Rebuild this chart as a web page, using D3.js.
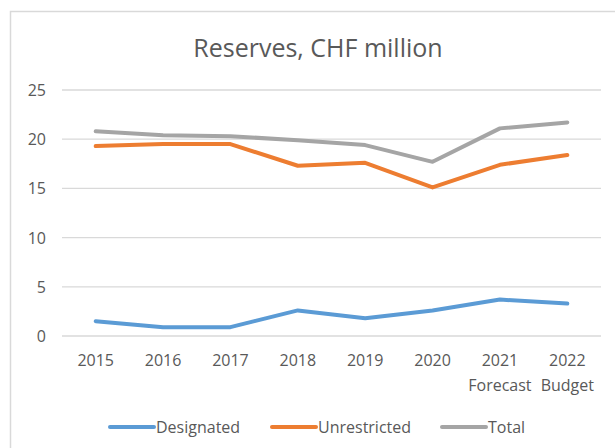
<!DOCTYPE html>
<html>
<head>
<meta charset="utf-8">
<script src="https://cdn.jsdelivr.net/npm/d3@7"></script>
<style>
  html, body { margin: 0; padding: 0; background: #fff; }
  svg { display: block; font-family: "Open Sans", "Noto Sans", sans-serif; }
</style>
</head>
<body>
<script>
let years = ["2015","2016","2017","2018","2019","2020","2021","2022"]
let subLabels = ["","","","","","","Forecast","Budget"]
let designated = [1.5, 0.9, 0.9, 2.6, 1.8, 2.6, 3.7, 3.3]
let unrestricted = [19.3, 19.5, 19.5, 17.3, 17.6, 15.1, 17.4, 18.4]
let total = [20.8, 20.4, 20.3, 19.9, 19.4, 17.7, 21.1, 21.7]
let yTicks = [0, 5, 10, 15, 20, 25]

let series = [
  {name:"Designated", values:designated, color:"#5B9BD5"},
  {name:"Unrestricted", values:unrestricted, color:"#ED7D31"},
  {name:"Total", values:total, color:"#A5A5A5"}
]

let W = 615, H = 448
let margin = {left:62, right:14, top:90, bottom:112}

let svg = d3.select("body").append("svg").attr("width",W).attr("height",H)

// chart frame (runs off the right and bottom edges)
svg.append("rect").attr("x",10.5).attr("y",11.5).attr("width",W+20).attr("height",H+20)
   .attr("fill","#fff").attr("stroke","#D9D9D9").attr("stroke-width",1.5)

svg.append("text").attr("x",318).attr("y",57).attr("text-anchor","middle")
   .attr("font-size",25).attr("fill","#595959").text("Reserves, CHF million")

let x = d3.scaleBand().domain(years).range([margin.left, W-margin.right])
let y = d3.scaleLinear().domain([0,25]).range([H-margin.bottom, margin.top])

// gridlines
svg.append("g").selectAll("line").data(yTicks).enter().append("line")
   .attr("x1",margin.left).attr("x2",W-margin.right)
   .attr("y1",d=>y(d)).attr("y2",d=>y(d))
   .attr("stroke","#D9D9D9").attr("stroke-width",1.3)

// y labels
svg.append("g").selectAll("text").data(yTicks).enter().append("text")
   .attr("x",46).attr("y",d=>y(d)+6).attr("text-anchor","end")
   .attr("font-size",16).attr("fill","#595959").text(d=>d)

// x labels
let xl = svg.append("g").selectAll("text").data(years).enter().append("text")
   .attr("x",d=>x(d)+x.bandwidth()/2).attr("y",H-margin.bottom+30)
   .attr("text-anchor","middle").attr("font-size",16).attr("fill","#595959")
xl.append("tspan").text(d=>d)
xl.append("tspan").attr("x",d=>x(d)+x.bandwidth()/2).attr("dy",25)
  .text((d,i)=>subLabels[i])

let line = d3.line().x((d,i)=>x(years[i])+x.bandwidth()/2).y(d=>y(d))

svg.append("g").selectAll("path").data(series.slice().reverse()).enter().append("path")
   .attr("d",d=>line(d.values)).attr("fill","none")
   .attr("stroke",d=>d.color).attr("stroke-width",4)
   .attr("stroke-linecap","round").attr("stroke-linejoin","round")

// legend
let legX = [110, 272, 442]
let leg = svg.append("g").selectAll("g").data(series).enter().append("g")
   .attr("transform",(d,i)=>"translate("+legX[i]+",427)")
leg.append("line").attr("x1",0).attr("x2",44).attr("y1",0).attr("y2",0)
   .attr("stroke",d=>d.color).attr("stroke-width",4).attr("stroke-linecap","round")
leg.append("text").attr("x",46).attr("y",6).attr("font-size",16).attr("fill","#595959")
   .text(d=>d.name)
</script>
</body>
</html>
